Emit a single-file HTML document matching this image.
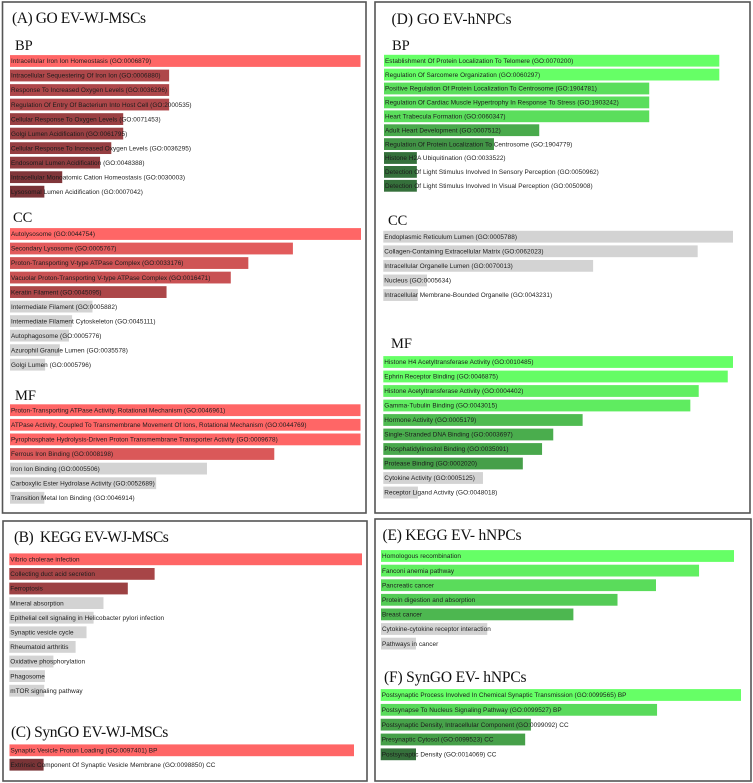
<!DOCTYPE html>
<html lang="en">
<head>
<meta charset="utf-8">
<title>GO, KEGG and SynGO enrichment of EV-WJ-MSCs and EV-hNPCs</title>
<style>
html,body{margin:0;padding:0;background:#fff;width:753px;height:783px;overflow:hidden}
svg{display:block;filter:blur(.3px)}
.panel{fill:#fff;stroke:#555;stroke-width:1.6}
.title{font-family:"Liberation Serif",serif;font-size:15.5px;fill:#111}
.tight-a{letter-spacing:-.41px}
.tight-b{letter-spacing:-.5px}
.tight-c{letter-spacing:-.35px}
.tight-e{letter-spacing:-.22px}
.tight-f{letter-spacing:-.16px}
.sec{font-family:"Liberation Serif",serif;font-size:14.5px;fill:#111}
.lbl{font-family:"Liberation Sans",sans-serif;font-size:6.4px;letter-spacing:.05px;fill:#1c1c1c}
</style>
</head>
<body>
<svg id="figure" width="753" height="783" viewBox="0 0 753 783" xmlns="http://www.w3.org/2000/svg">
  <rect class="panel" x="2.5" y="2" width="363.5" height="511"/>
  <rect class="panel" x="3" y="521" width="364" height="260"/>
  <rect class="panel" x="375" y="2" width="375" height="511"/>
  <rect class="panel" x="375" y="519" width="376" height="262"/>

  <text class="title tight-a" x="12" y="23">(A) GO EV-WJ-MSCs</text>
  <text class="sec" x="15" y="50">BP</text>
  <text class="sec" x="13" y="222">CC</text>
  <text class="sec" x="15" y="400">MF</text>
  <text class="title tight-b" x="14" y="542">(B)&#160; KEGG EV-WJ-MSCs</text>
  <text class="title tight-c" x="11" y="737">(C) SynGO EV-WJ-MSCs</text>
  <text class="title" x="391.5" y="24">(D) GO EV-hNPCs</text>
  <text class="sec" x="392" y="50">BP</text>
  <text class="sec" x="388" y="225">CC</text>
  <text class="sec" x="391" y="348">MF</text>
  <text class="title tight-e" x="382.5" y="540">(E) KEGG EV- hNPCs</text>
  <text class="title tight-f" x="384" y="682">(F) SynGO EV- hNPCs</text>
  <g id="bars"></g>
</svg>
<script>
// Panel A
const aBpLabels = ["Intracellular Iron Ion Homeostasis (GO:0006879)","Intracellular Sequestering Of Iron Ion (GO:0006880)","Response To Increased Oxygen Levels (GO:0036296)","Regulation Of Entry Of Bacterium Into Host Cell (GO:2000535)","Cellular Response To Oxygen Levels (GO:0071453)","Golgi Lumen Acidification (GO:0061795)","Cellular Response To Increased Oxygen Levels (GO:0036295)","Endosomal Lumen Acidification (GO:0048388)","Intracellular Monoatomic Cation Homeostasis (GO:0030003)","Lysosomal Lumen Acidification (GO:0007042)"];
const aBpValues = [100,45.4,45.4,45.4,32.3,32.3,28.9,25.7,14.9,9.8];
const aBpSignificant = [1,1,1,1,1,1,1,1,1,1];

const aCcLabels = ["Autolysosome (GO:0044754)","Secondary Lysosome (GO:0005767)","Proton-Transporting V-type ATPase Complex (GO:0033176)","Vacuolar Proton-Transporting V-type ATPase Complex (GO:0016471)","Keratin Filament (GO:0045095)","Intermediate Filament (GO:0005882)","Intermediate Filament Cytoskeleton (GO:0045111)","Autophagosome (GO:0005776)","Azurophil Granule Lumen (GO:0035578)","Golgi Lumen (GO:0005796)"];
const aCcValues = [100,80.6,67.9,62.9,44.6,23.5,17.7,16.8,14.2,10];
const aCcSignificant = [1,1,1,1,1,0,0,0,0,0];

const aMfLabels = ["Proton-Transporting ATPase Activity, Rotational Mechanism (GO:0046961)","ATPase Activity, Coupled To Transmembrane Movement Of Ions, Rotational Mechanism (GO:0044769)","Pyrophosphate Hydrolysis-Driven Proton Transmembrane Transporter Activity (GO:0009678)","Ferrous Iron Binding (GO:0008198)","Iron Ion Binding (GO:0005506)","Carboxylic Ester Hydrolase Activity (GO:0052689)","Transition Metal Ion Binding (GO:0046914)"];
const aMfValues = [100,100,100,75.4,56.2,41.7,9.8];
const aMfSignificant = [1,1,1,1,0,0,0];

// Panels B, C
const bLabels = ["Vibrio cholerae infection","Collecting duct acid secretion","Ferroptosis","Mineral absorption","Epithelial cell signaling in Helicobacter pylori infection","Synaptic vesicle cycle","Rheumatoid arthritis","Oxidative phosphorylation","Phagosome","mTOR signaling pathway"];
const bValues = [100,41.2,33.6,26.7,23.9,21.9,18.8,12.5,10.1,9.9];
const bSignificant = [1,1,1,0,0,0,0,0,0,0];

const cLabels = ["Synaptic Vesicle Proton Loading (GO:0097401) BP","Extrinsic Component Of Synaptic Vesicle Membrane (GO:0098850) CC"];
const cValues = [100,9.9];
const cSignificant = [1,1];

// Panel D
const dBpLabels = ["Establishment Of Protein Localization To Telomere (GO:0070200)","Regulation Of Sarcomere Organization (GO:0060297)","Positive Regulation Of Protein Localization To Centrosome (GO:1904781)","Regulation Of Cardiac Muscle Hypertrophy In Response To Stress (GO:1903242)","Heart Trabecula Formation (GO:0060347)","Adult Heart Development (GO:0007512)","Regulation Of Protein Localization To Centrosome (GO:1904779)","Histone H2A Ubiquitination (GO:0033522)","Detection Of Light Stimulus Involved In Sensory Perception (GO:0050962)","Detection Of Light Stimulus Involved In Visual Perception (GO:0050908)"];
const dBpValues = [100,100,79.1,79.1,79.1,46.3,32.8,9.8,9.8,9.8];
const dBpSignificant = [1,1,1,1,1,1,1,1,1,1];

const dCcLabels = ["Endoplasmic Reticulum Lumen (GO:0005788)","Collagen-Containing Extracellular Matrix (GO:0062023)","Intracellular Organelle Lumen (GO:0070013)","Nucleus (GO:0005634)","Intracellular Membrane-Bounded Organelle (GO:0043231)"];
const dCcValues = [100,89.9,60,12.5,9.9];
const dCcSignificant = [0,0,0,0,0];

const dMfLabels = ["Histone H4 Acetyltransferase Activity (GO:0010485)","Ephrin Receptor Binding (GO:0046875)","Histone Acetyltransferase Activity (GO:0004402)","Gamma-Tubulin Binding (GO:0043015)","Hormone Activity (GO:0005179)","Single-Stranded DNA Binding (GO:0003697)","Phosphatidylinositol Binding (GO:0035091)","Protease Binding (GO:0002020)","Cytokine Activity (GO:0005125)","Receptor Ligand Activity (GO:0048018)"];
const dMfValues = [100,98.5,90.2,87.8,57,48.6,45.4,39.9,28.5,9.9];
const dMfSignificant = [1,1,1,1,1,1,1,1,0,0];

// Panels E, F
const eLabels = ["Homologous recombination","Fanconi anemia pathway","Pancreatic cancer","Protein digestion and absorption","Breast cancer","Cytokine-cytokine receptor interaction","Pathways in cancer"];
const eValues = [100,90.1,77.9,67,54.5,30.1,9.9];
const eSignificant = [1,1,1,1,1,0,0];

const fLabels = ["Postsynaptic Process Involved In Chemical Synaptic Transmission (GO:0099565) BP","Postsynapse To Nucleus Signaling Pathway (GO:0099527) BP","Postsynaptic Density, Intracellular Component (GO:0099092) CC","Presynaptic Cytosol (GO:0099523) CC","Postsynaptic Density (GO:0014069) CC"];
const fValues = [100,76.7,41.7,40.1,9.8];
const fSignificant = [1,1,1,1,1];

const SVG_NS = "http://www.w3.org/2000/svg";
const VALUE_MAX = 100;
const BAR_HEIGHT = 11.8;

function xScale(v, left, right) {
  return (Math.max(0, v) / VALUE_MAX) * (right - left);
}
function yCenter(i, first, pitch) {
  return first + i * pitch;
}
function mix(a, b, t) {
  return Math.round(a + (b - a) * t);
}
function barColor(v, sig, hue) {
  if (!sig) return "#d3d3d3";
  const t = Math.min(1, Math.max(0, v / VALUE_MAX));
  if (hue === "red") {
    return "rgb(" + mix(106, 255, t) + "," + mix(46, 102, t) + "," + mix(50, 102, t) + ")";
  }
  return "rgb(" + mix(48, 102, t) + "," + mix(96, 255, t) + "," + mix(54, 102, t) + ")";
}
function drawChart(name, labels, values, significant, hue, left, right, first, pitch) {
  const host = document.getElementById("bars");
  labels.forEach(function (label, i) {
    const cy = yCenter(i, first, pitch);
    const bar = document.createElementNS(SVG_NS, "rect");
    bar.setAttribute("x", left);
    bar.setAttribute("y", cy - BAR_HEIGHT / 2);
    bar.setAttribute("width", xScale(values[i], left, right));
    bar.setAttribute("height", BAR_HEIGHT);
    bar.setAttribute("fill", barColor(values[i], significant[i], hue));
    
    
    host.appendChild(bar);
    const text = document.createElementNS(SVG_NS, "text");
    text.setAttribute("class", "lbl");
    text.setAttribute("x", left + 1);
    text.setAttribute("y", cy + 2.2);
    text.textContent = label;
    
    
    host.appendChild(text);
  });
}
drawChart("a-bp", aBpLabels, aBpValues, aBpSignificant, "red", 10, 360.5, 61, 14.52);
drawChart("a-cc", aCcLabels, aCcValues, aCcSignificant, "red", 10, 361, 234, 14.52);
drawChart("a-mf", aMfLabels, aMfValues, aMfSignificant, "red", 10, 360.5, 410.2, 14.6);
drawChart("b-kegg", bLabels, bValues, bSignificant, "red", 9.3, 362, 559.3, 14.6);
drawChart("c-syngo", cLabels, cValues, cSignificant, "red", 9.5, 354, 750.3, 14.4);
drawChart("d-bp", dBpLabels, dBpValues, dBpSignificant, "green", 384, 719.3, 60.7, 13.9);
drawChart("d-cc", dCcLabels, dCcValues, dCcSignificant, "green", 383.3, 733, 236.7, 14.58);
drawChart("d-mf", dMfLabels, dMfValues, dMfSignificant, "green", 383.3, 733, 362, 14.5);
drawChart("e-kegg", eLabels, eValues, eSignificant, "green", 381, 734, 556, 14.6);
drawChart("f-syngo", fLabels, fValues, fSignificant, "green", 380.7, 741, 695, 14.83);
</script>
</body>
</html>
